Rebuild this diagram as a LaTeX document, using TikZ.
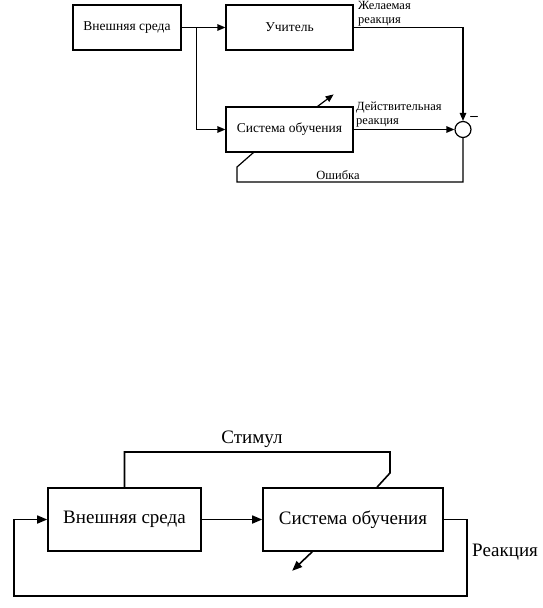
\documentclass[tikz,border=0pt]{standalone}
\usepackage{fontspec}
\setmainfont{Liberation Serif}
\usetikzlibrary{arrows.meta}

\begin{document}
\begin{tikzpicture}[x=1pt,y=-1pt,
      blk/.style={draw,line width=1.2pt,inner sep=0pt,
                  font=\fontsize{13.5}{15}\selectfont},
      bigblk/.style={draw,line width=1.6pt,inner sep=0pt,
                  font=\fontsize{19}{22}\selectfont},
      lbl/.style={font=\fontsize{12.5}{13.5}\selectfont,inner sep=0pt,align=left},
      biglbl/.style={font=\fontsize{19}{22}\selectfont,inner sep=0pt},
      arr/.style={-{Triangle[length=8pt,width=6.5pt]},line width=1.2pt},
      ln/.style={line width=1.2pt},
      bigarr/.style={-{Triangle[length=10pt,width=8pt]},line width=1.6pt},
      bigln/.style={line width=1.6pt}]
    \useasboundingbox (0,0) rectangle (543,608);
    % upper scheme: learning with a teacher
    \node[blk,minimum width=108pt,minimum height=45pt] (env) at (127,27.5)
      {Внешняя среда};
    \node[blk,minimum width=127pt,minimum height=45pt] (teacher) at (289.5,27.5)
      {Учитель};
    \node[blk,minimum width=127pt,minimum height=45pt] (learner) at (289.5,129.5)
      {Система обучения};
    \node[draw,circle,line width=1.2pt,minimum size=16pt,inner sep=0pt] (sum)
      at (463,129.5) {};
    \draw[arr] (env) -- (teacher);
    \draw[arr] ([xshift=15pt]env.east) |- (learner);
    \draw[arr] (teacher) -| (sum);
    \draw[arr] (learner) -- (sum);
    \draw[ln] (sum) |- (237,182) -- (237,167)
      -- ([xshift=28pt]learner.south west);
    \draw[arr] ([xshift=-36pt]learner.north east) -- ++(16,-12);
    \node[lbl,anchor=south west] (want) at (358,26) {Желаемая\\реакция};
    \node[lbl,anchor=south west] (real) at (356,127) {Действительная\\реакция};
    \node[lbl,anchor=south] (err) at (338,180) {Ошибка};
    \node[font=\fontsize{15}{15}\selectfont\bfseries,inner sep=0pt] (minus)
      at (474,118) {–};
    % lower scheme: learning without a teacher
    \node[bigblk,minimum width=153pt,minimum height=63pt] (env2) at (124.5,519.5)
      {Внешняя среда};
    \node[bigblk,minimum width=180pt,minimum height=63pt] (learner2) at (353,519.5)
      {Система обучения};
    \draw[bigarr] (env2) -- (learner2);
    \draw[bigln] (env2.north) |- (390,452) -- (390,473)
      -- ([xshift=24pt]learner2.north);
    \draw[bigarr] (learner2.east) -- (467,519.5) -- (467,596) -- (14,596)
      -- (14,519.5) -- (env2.west);
    \draw[bigarr] ([xshift=50pt]learner2.south west) -- ++(-20,19);
    \node[biglbl,anchor=south] (stim) at (252,448) {Стимул};
    \node[biglbl,anchor=west] (resp) at (472,552) {Реакция};
  \end{tikzpicture}
\end{document}
